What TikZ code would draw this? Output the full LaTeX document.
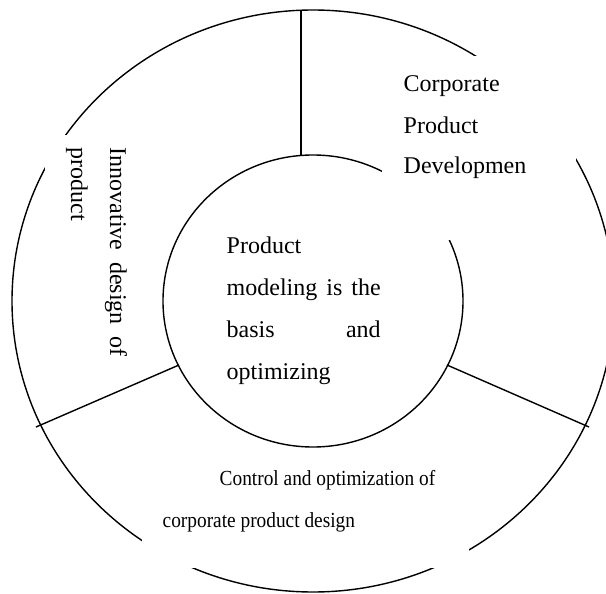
\documentclass[tikz,border=0pt]{standalone}
\usepackage{fontspec}
\setmainfont{Liberation Serif}
\newfontfamily\condfont[FakeStretch=0.9]{Liberation Serif}
\begin{document}
\begin{tikzpicture}[x=1pt,y=-1pt,line width=1.4pt,
  big/.style={font=\fontsize{24}{28}\selectfont, inner sep=0pt, anchor=base west},
  small/.style={font=\condfont\fontsize{21.5}{26}\selectfont, inner sep=0pt, anchor=base west},
  cover/.style={fill=white, draw=none}]
\useasboundingbox (0,0) rectangle (606,594);
\clip (0,0) rectangle (606,594);
% circles
\coordinate (c) at (313,301);
\draw (c) ellipse [x radius=301pt, y radius=291pt];
\draw (c) ellipse [x radius=150pt, y radius=146pt];
% dividing lines
\coordinate (topout) at (301,10.2);
\coordinate (topin) at (301,155.5);
\coordinate (lin) at (179,365);
\coordinate (lout) at (36,427);
\coordinate (rin) at (447,365);
\coordinate (rout) at (589,427);
\draw (topout) -- (topin);
\draw (lin) -- (lout);
\draw (rin) -- (rout);
% white text boxes
\fill[cover] (382,56) rectangle (576,240);
\fill[cover] (45,135) rectangle (150,360);
\fill[cover] (142,452) rectangle (469,568);
% top right text
\node[big] (cp1) at (403,92) {Corporate};
\node[big] (cp2) at (403,133) {Product};
\node[big] (cp3) at (403,174) {Developmen};
% inner text
\node[big] (in1) at (226,253) {Product};
\node[big] (in2) at (226,295) {\makebox[154pt][s]{modeling is the}};
\node[big] (in3) at (226,337) {\makebox[154pt][s]{basis and}};
\node[big] (in4) at (226,379) {optimizing};
% left rotated text
\node[big, rotate=-90] (lt1) at (110,147) {\makebox[209pt][s]{Innovative design of}};
\node[big, rotate=-90] (lt2) at (71,147) {product};
% bottom text
\node[small] (bt1) at (219,485) {Control and optimization of};
\node[small] (bt2) at (162,527) {corporate product design};
\end{tikzpicture}
\end{document}
